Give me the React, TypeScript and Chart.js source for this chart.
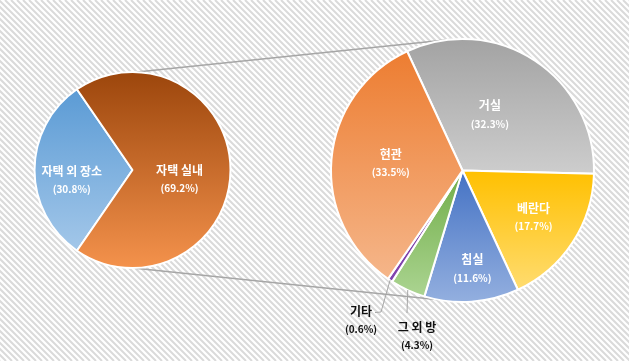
import React, { useEffect, useRef } from 'react';
import { Chart, registerables } from 'chart.js';
Chart.register(...registerables);

// ---------- data ----------
const mainCategories = ['자택 외 장소', '자택 실내'];
const mainValues = [30.8, 69.2];
const subCategories = ['거실', '베란다', '침실', '그 외 방', '기타', '현관'];
const subValues = [32.3, 17.7, 11.6, 4.3, 0.6, 33.5];

// ---------- style / layout ----------
const W = 629;
const H = 361;
const LEFT = { cx: 132.5, cy: 170, r: 98, rotation: 214.56 };
const RIGHT = { cx: 462.5, cy: 170.5, r: 131.5, rotation: -24.9 };

const mainColors: [string, string][] = [
  ['#5B9BD5', '#A3C7E9'],
  ['#9C460C', '#F4924C'],
];
const subColors: [string, string][] = [
  ['#A3A3A3', '#CDCDCD'],
  ['#FFC000', '#FFDC70'],
  ['#4472C4', '#93AFDF'],
  ['#70AD47', '#ABD491'],
  ['#7030A0', '#8244B0'],
  ['#ED7D31', '#F5B68A'],
];

// label placement: radius factor along slice mid-angle + small shift
const mainLabelStyle = [
  { f: 0.62, dx: 0, dy: 10 },
  { f: 0.48, dx: 0, dy: 9 },
];
const subLabelStyle: any[] = [
  { f: 0.47, dx: -6.5, dy: -4 },
  { f: 0.646, dx: 0, dy: 0 },
  { f: 0.75, dx: 3, dy: 0 },
  { outside: true, label: [-45.5, 165.5], pts: [[-55.5, 142.5]] },
  { outside: true, label: [-101.5, 150], pts: [[-81.5, 141.5], [-87.5, 142]] },
  { f: 0.547, dx: 0, dy: -1 },
];

// connector lines (angles in degrees on each pie)
const connectors = [
  { a1: -87.4, a2: -95.4 },
  { a1: 89.7, a2: 100.6 },
];

const FONT = '"Malgun Gothic", "Noto Sans CJK KR", sans-serif';

function sliceYRange(values: number[], idx: number, rotDeg: number, cy: number, r: number) {
  const total = values.reduce((a, b) => a + b, 0);
  let before = 0;
  for (let i = 0; i < idx; i++) before += values[i];
  const start = ((rotDeg - 90) * Math.PI) / 180 + (before / total) * Math.PI * 2;
  const end = start + (values[idx] / total) * Math.PI * 2;
  const ys = [cy, cy + r * Math.sin(start), cy + r * Math.sin(end)];
  for (let k = -3; k <= 3; k++) {
    const b = Math.PI / 2 + 2 * k * Math.PI;
    const t = -Math.PI / 2 + 2 * k * Math.PI;
    if (b > start && b < end) ys.push(cy + r);
    if (t > start && t < end) ys.push(cy - r);
  }
  return [Math.min(...ys), Math.max(...ys)];
}

function gradientFill(values: number[], colors: [string, string][], geo: any) {
  return (ctx: any) => {
    const i = ctx.dataIndex;
    const chart = ctx.chart;
    if (i === undefined || !chart.chartArea) return colors[0][0];
    const [y0, y1] = sliceYRange(values, i, geo.rotation, geo.cy, geo.r);
    const g = chart.ctx.createLinearGradient(0, y0, 0, y1 + 0.01);
    g.addColorStop(0, colors[i][0]);
    g.addColorStop(1, colors[i][1]);
    return g;
  };
}

function labelsPlugin(cats: string[], vals: number[], styles: any[]) {
  return {
    id: 'sliceLabels',
    afterDatasetsDraw(chart: any) {
      const meta = chart.getDatasetMeta(0);
      const c = chart.ctx;
      c.save();
      c.textAlign = 'center';
      c.textBaseline = 'middle';
      meta.data.forEach((arc: any, i: number) => {
        const st = styles[i];
        const mid = (arc.startAngle + arc.endAngle) / 2;
        const cx = arc.x;
        const cy = arc.y;
        const r = arc.outerRadius;
        let px: number, py: number;
        if (st.outside) {
          c.strokeStyle = '#A6A6A6';
          c.lineWidth = 1;
          c.beginPath();
          c.moveTo(cx + r * Math.cos(mid), cy + r * Math.sin(mid));
          st.pts.forEach((p: number[]) => c.lineTo(cx + p[0], cy + p[1]));
          c.stroke();
          px = cx + st.label[0];
          py = cy + st.label[1];
          c.fillStyle = '#111111';
        } else {
          px = cx + st.f * r * Math.cos(mid) + st.dx;
          py = cy + st.f * r * Math.sin(mid) + st.dy;
          c.fillStyle = '#FFFFFF';
        }
        c.font = `bold 12px ${FONT}`;
        c.fillText(cats[i], px, py - 9);
        c.font = `bold 10px ${FONT}`;
        c.fillText(`(${vals[i].toFixed(1)}%)`, px, py + 9);
      });
      c.restore();
    },
  };
}

const backgroundPlugin = {
  id: 'hatchBg',
  beforeDraw(chart: any) {
    const c = chart.ctx;
    c.save();
    c.fillStyle = '#FFFFFF';
    c.fillRect(0, 0, W, H);
    c.strokeStyle = '#DADADA';
    c.lineWidth = 2;
    c.beginPath();
    for (let k = -H; k < W + H; k += 6) {
      c.moveTo(k, 0);
      c.lineTo(k + H, H);
    }
    c.stroke();
    // connector lines between the two pies
    c.strokeStyle = '#A6A6A6';
    c.lineWidth = 1.5;
    connectors.forEach((cn) => {
      const a1 = (cn.a1 * Math.PI) / 180;
      const a2 = (cn.a2 * Math.PI) / 180;
      c.beginPath();
      c.moveTo(LEFT.cx + LEFT.r * Math.cos(a1), LEFT.cy + LEFT.r * Math.sin(a1));
      c.lineTo(RIGHT.cx + RIGHT.r * Math.cos(a2), RIGHT.cy + RIGHT.r * Math.sin(a2));
      c.stroke();
    });
    c.restore();
  },
};

function pieConfig(cats: string[], vals: number[], colors: [string, string][], geo: any, plugins: any[]) {
  return {
    type: 'pie' as const,
    data: {
      labels: cats,
      datasets: [
        {
          data: vals,
          backgroundColor: gradientFill(vals, colors, geo),
          borderColor: '#FFFFFF',
          borderWidth: 2,
          hoverOffset: 0,
          offset: 0,
        },
      ],
    },
    options: {
      responsive: false,
      animation: false as const,
      events: [],
      rotation: geo.rotation,
      radius: geo.r,
      layout: {
        padding: {
          left: geo.cx - geo.r,
          right: W - geo.cx - geo.r,
          top: geo.cy - geo.r,
          bottom: H - geo.cy - geo.r,
        },
      },
      plugins: { legend: { display: false }, tooltip: { enabled: false }, title: { display: false } },
    },
    plugins,
  };
}

export default function App() {
  const leftRef = useRef<HTMLCanvasElement>(null);
  const rightRef = useRef<HTMLCanvasElement>(null);

  useEffect(() => {
    const left = new Chart(
      leftRef.current!,
      pieConfig(mainCategories, mainValues, mainColors, LEFT, [
        backgroundPlugin,
        labelsPlugin(mainCategories, mainValues, mainLabelStyle),
      ]) as any
    );
    const right = new Chart(
      rightRef.current!,
      pieConfig(subCategories, subValues, subColors, RIGHT, [
        labelsPlugin(subCategories, subValues, subLabelStyle),
      ]) as any
    );
    return () => {
      left.destroy();
      right.destroy();
    };
  }, []);

  const cs: React.CSSProperties = { position: 'absolute', left: 0, top: 0, width: W, height: H };
  return (
    <div style={{ position: 'fixed', left: 0, top: 0, width: W, height: H, background: '#fff' }}>
      <canvas ref={leftRef} width={W} height={H} style={cs} />
      <canvas ref={rightRef} width={W} height={H} style={cs} />
    </div>
  );
}
